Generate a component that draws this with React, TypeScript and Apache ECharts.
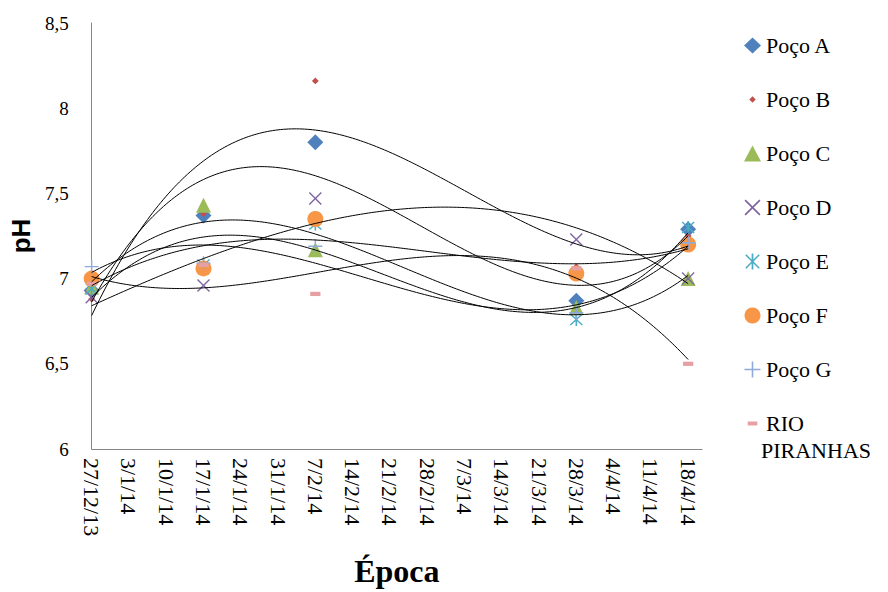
import React, { useEffect, useRef } from "react";
import * as echarts from "echarts";

const sampleDates = ["27/12/13", "17/1/14", "7/2/14", "28/3/14", "18/4/14"];
const tickLabels = ["27/12/13", "3/1/14", "10/1/14", "17/1/14", "24/1/14", "31/1/14", "7/2/14", "14/2/14", "21/2/14", "28/2/14", "7/3/14", "14/3/14", "21/3/14", "28/3/14", "4/4/14", "11/4/14", "18/4/14"];
const yTicks = ["6", "6,5", "7", "7,5", "8", "8,5"];

const pocoA = [6.93, 7.37, 7.80, 6.87, 7.29];
const pocoB = [6.88, 7.38, 8.16, 7.07, 7.25];
const pocoC = [6.95, 7.43, 7.17, 6.83, 7.00];
const pocoD = [6.89, 6.96, 7.47, 7.23, 7.00];
const pocoE = [6.94, 7.08, 7.32, 6.76, 7.30];
const pocoF = [7.00, 7.06, 7.35, 7.03, 7.20];
const pocoG = [7.07, 7.09, 7.19, 6.80, 7.21];
const rioPiranhas = [6.97, 7.08, 6.91, 7.06, 6.50];

const seriesNames = ["Poço A", "Poço B", "Poço C", "Poço D", "Poço E", "Poço F", "Poço G", "RIO PIRANHAS"];
const legendLabels = ["Poço A", "Poço B", "Poço C", "Poço D", "Poço E", "Poço F", "Poço G", "RIO"];
const legendExtraLine = "PIRANHAS";

const X_PATH = "path://M1.5,0L10,8.5L18.5,0L20,1.5L11.5,10L20,18.5L18.5,20L10,11.5L1.5,20L0,18.5L8.5,10L0,1.5Z";
const STAR_PATH = "path://M1.5,0L10,8.5L18.5,0L20,1.5L11.5,10L20,18.5L18.5,20L10,11.5L1.5,20L0,18.5L8.5,10L0,1.5Z M8.8,-1L11.2,-1L11.2,21L8.8,21Z";
const PLUS_PATH = "path://M9,0L11,0L11,9L20,9L20,11L11,11L11,20L9,20L9,11L0,11L0,9L9,9Z";
const SMALL_DIAMOND = "path://M0,0M20,20M10,6L14,10L10,14L6,10Z";
const DASH_PATH = "path://M0,0M20,20M4,7.5L16,7.5L16,12.5L4,12.5Z";

function parseDay(s: string): number {
  const [d, m, y] = s.split("/").map(Number);
  const t = Date.UTC(2000 + y, m - 1, d);
  const t0 = Date.UTC(2013, 11, 27);
  return Math.round((t - t0) / 86400000);
}

function cubicFit(xs: number[], ys: number[]): number[] {
  const n = 4;
  const A: number[][] = Array.from({ length: n }, () => new Array(n + 1).fill(0));
  for (let k = 0; k < xs.length; k++) {
    const p: number[] = [1, xs[k], xs[k] ** 2, xs[k] ** 3];
    for (let i = 0; i < n; i++) {
      for (let j = 0; j < n; j++) A[i][j] += p[i] * p[j];
      A[i][n] += p[i] * ys[k];
    }
  }
  for (let i = 0; i < n; i++) {
    let piv = i;
    for (let r = i + 1; r < n; r++) if (Math.abs(A[r][i]) > Math.abs(A[piv][i])) piv = r;
    [A[i], A[piv]] = [A[piv], A[i]];
    for (let r = 0; r < n; r++) {
      if (r === i) continue;
      const f = A[r][i] / A[i][i];
      for (let c = i; c <= n; c++) A[r][c] -= f * A[i][c];
    }
  }
  return A.map((row, i) => row[n] / row[i]);
}

export default function App() {
  const ref = useRef<HTMLDivElement>(null);
  useEffect(() => {
    if (!ref.current) return;
    const chart = echarts.init(ref.current, null, { renderer: "svg" });
    const days = sampleDates.map(parseDay);
    const lastDay = days[days.length - 1];
    const values = [pocoA, pocoB, pocoC, pocoD, pocoE, pocoF, pocoG, rioPiranhas];
    const styles = [
      { symbol: "diamond", symbolSize: 16, color: "#4F81BD" },
      { symbol: SMALL_DIAMOND, symbolSize: 17, color: "#C0504D" },
      { symbol: "triangle", symbolSize: 15, color: "#9BBB59" },
      { symbol: X_PATH, symbolSize: 13, color: "#8064A2" },
      { symbol: STAR_PATH, symbolSize: 13, color: "#4BACC6" },
      { symbol: "circle", symbolSize: 16, color: "#F79646" },
      { symbol: PLUS_PATH, symbolSize: 14, color: "#8EA9DB" },
      { symbol: DASH_PATH, symbolSize: 17, color: "#E6A0A4" },
    ];

    const trendSeries = values.map((vals) => {
      const ts = days.map((d) => d / lastDay);
      const c = cubicFit(ts, vals);
      const pts: number[][] = [];
      for (let d = 0; d <= lastDay; d += 0.5) {
        const t = d / lastDay;
        pts.push([d, c[0] + c[1] * t + c[2] * t * t + c[3] * t * t * t]);
      }
      return {
        type: "line",
        data: pts,
        showSymbol: false,
        symbol: "none",
        silent: true,
        lineStyle: { color: "#000", width: 1 },
        z: 3,
      };
    });

    const scatterSeries = values.map((vals, i) => ({
      name: seriesNames[i],
      type: "scatter",
      data: vals.map((v, k) => [days[k], v]),
      symbol: styles[i].symbol,
      symbolSize: styles[i].symbolSize,
      itemStyle: { color: styles[i].color, opacity: 1 },
      z: 2,
    }));

    chart.setOption({
      animation: false,
      backgroundColor: "#fff",
      textStyle: { fontFamily: "Liberation Serif" },
      grid: { left: 90, top: 23, width: 612, height: 434, containLabel: false },
      legend: {
        orient: "vertical",
        left: 739,
        top: 27,
        itemGap: 27,
        itemWidth: 17,
        itemHeight: 16,
        data: seriesNames,
        formatter: (n: string) => legendLabels[seriesNames.indexOf(n)] ?? n,
        textStyle: { fontFamily: "Liberation Serif", fontSize: 22, color: "#000", lineHeight: 27 },
      },
      graphic: [
        {
          type: "text",
          left: 761,
          top: 439,
          style: { text: legendExtraLine, font: "22px 'Liberation Serif'", fill: "#000" },
        },
      ],
      xAxis: {
        type: "value",
        min: 0,
        max: 114.6,
        interval: 7,
        name: "Época",
        nameLocation: "middle",
        nameGap: 106,
        nameTextStyle: { fontFamily: "Liberation Serif", fontSize: 32, fontWeight: "bold", color: "#000" },
        axisLine: { show: true, lineStyle: { color: "#868686", width: 1 } },
        axisTick: { show: false },
        splitLine: { show: false },
        axisLabel: {
          rotate: -90,
          margin: 9,
          showMaxLabel: false,
          fontFamily: "Liberation Serif",
          fontSize: 22,
          color: "#000",
          formatter: (v: number) => {
            const idx = Math.round(v / 7);
            return Math.abs(v - idx * 7) < 1e-6 && tickLabels[idx] ? tickLabels[idx] : "";
          },
        },
      },
      yAxis: {
        type: "value",
        min: 6,
        max: 8.5,
        interval: 0.5,
        name: "pH",
        nameLocation: "middle",
        nameGap: 49,
        nameTextStyle: { fontFamily: "Liberation Sans", fontSize: 26, fontWeight: "bold", color: "#000" },
        axisLine: { show: true, lineStyle: { color: "#868686", width: 1 } },
        axisTick: { show: false },
        splitLine: { show: false },
        axisLabel: {
          margin: 23,
          fontFamily: "Liberation Serif",
          fontSize: 19,
          color: "#000",
          formatter: (v: number) => yTicks[Math.round((v - 6) / 0.5)] ?? "",
        },
      },
      series: [...scatterSeries, ...trendSeries],
    });
    return () => chart.dispose();
  }, []);
  return <div ref={ref} style={{ width: 888, height: 592, position: "absolute", left: 0, top: 0 }} />;
}
